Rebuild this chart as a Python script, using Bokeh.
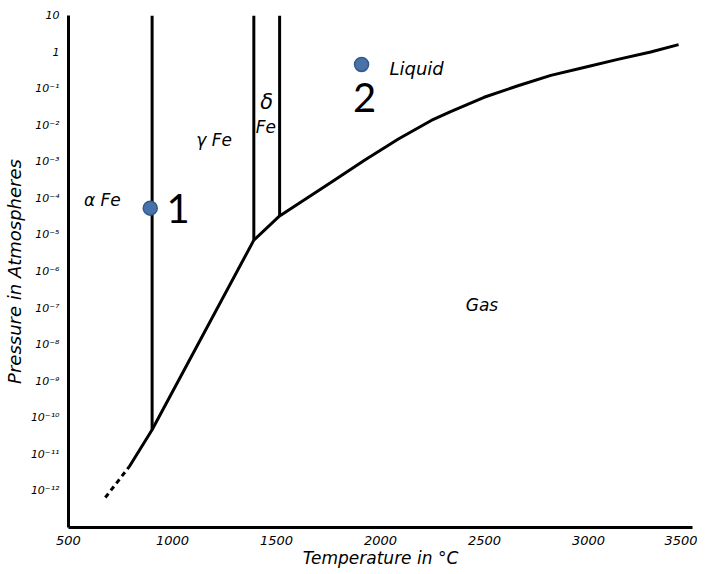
from bokeh.plotting import figure
from bokeh.models import Range1d, FixedTicker, CustomJSTickFormatter
from bokeh.core.properties import value
from bokeh.embed import file_html
from bokeh.resources import INLINE

# --- data (temperature in deg C, pressure in atm) ---
x_ticks = [500, 1000, 1500, 2000, 2500, 3000, 3500]
y_ticks = [1e-12, 1e-11, 1e-10, 1e-9, 1e-8, 1e-7, 1e-6, 1e-5, 1e-4, 1e-3, 1e-2, 1e-1, 1, 10]

alpha_gamma_T = [902, 902]
alpha_gamma_P = [10, 4.7e-11]

gamma_delta_T = [1391, 1391]
gamma_delta_P = [10, 7.2e-6]

delta_liquid_T = [1515, 1515]
delta_liquid_P = [10, 3.3e-5]

sub_dashed_T = [677, 792]
sub_dashed_P = [6.6e-13, 4.6e-12]

sub_gamma_T = [792, 902, 1391]
sub_gamma_P = [4.6e-12, 4.7e-11, 7.2e-6]

sub_delta_T = [1391, 1515]
sub_delta_P = [7.2e-6, 3.3e-5]

vap_T = [1515, 1765, 1923, 2086, 2244, 2340, 2498, 2661, 2819, 2978, 3141, 3299, 3433]
vap_P = [3.3e-5, 2.8e-4, 1.1e-3, 4.2e-3, 1.35e-2, 2.4e-2, 5.8e-2, 0.12, 0.23, 0.38, 0.63, 1.0, 1.6]

point_T = [893, 1909]
point_P = [5.4e-5, 0.46]
point_names = ["1", "2"]

FONT = value("DejaVu Sans")

p = figure(width=697, height=570, output_backend="svg", toolbar_location=None,
           y_axis_type="log", x_range=Range1d(500, 3500), y_range=Range1d(1e-13, 10),
           min_border_left=66, min_border_right=5, min_border_top=15, min_border_bottom=42)
p.outline_line_color = None
p.grid.visible = False
p.background_fill_color = "white"
p.border_fill_color = "white"

# axes
for ax in (p.xaxis[0], p.yaxis[0]):
    ax.axis_line_width = 3
    ax.axis_line_color = "black"
    ax.major_tick_line_color = None
    ax.minor_tick_line_color = None
    ax.major_label_text_font = "DejaVu Sans"
    ax.major_label_text_font_style = "italic"
    ax.major_label_text_color = "black"
    ax.axis_label_text_font = "DejaVu Sans"
    ax.axis_label_text_font_style = "italic"
    ax.axis_label_text_color = "black"

p.xaxis.ticker = FixedTicker(ticks=x_ticks)
p.xaxis.major_label_text_font_size = "13px"
p.xaxis.major_label_text_align = "right"
p.xaxis.major_label_standoff = 2
p.xaxis.axis_label = "Temperature in °C"
p.xaxis.axis_label_text_font_size = "17px"
p.xaxis.axis_label_standoff = 0

p.yaxis.ticker = FixedTicker(ticks=y_ticks)
p.yaxis.major_label_text_font_size = "11px"
p.yaxis.major_label_standoff = 3
p.yaxis.axis_label = "Pressure in Atmospheres"
p.yaxis.axis_label_text_font_size = "18px"
p.yaxis.axis_label_standoff = 3
p.yaxis.formatter = CustomJSTickFormatter(code="""
const e = Math.round(Math.log10(tick));
if (e === 1) return "10";
if (e === 0) return "1";
const sup = {"0":"\u2070","1":"\u00b9","2":"\u00b2","3":"\u00b3","4":"\u2074","5":"\u2075","6":"\u2076","7":"\u2077","8":"\u2078","9":"\u2079","-":"\u207b"};
return "10" + String(e).split("").map(c => sup[c]).join("");
""")

# phase boundaries
lw = 3
for T, P in [(alpha_gamma_T, alpha_gamma_P), (gamma_delta_T, gamma_delta_P),
             (delta_liquid_T, delta_liquid_P), (sub_gamma_T, sub_gamma_P),
             (sub_delta_T, sub_delta_P), (vap_T, vap_P)]:
    p.line(T, P, line_color="black", line_width=lw, line_join="round")
p.line(sub_dashed_T, sub_dashed_P, line_color="black", line_width=lw, line_dash="5 4")

# region labels
def lab(x, y, t, size="17px", align="center", font=FONT, style="italic"):
    p.text(x=[x], y=[y], text=[t], text_font=font, text_font_style=style,
           text_font_size=size, text_align=align, text_baseline="middle", text_color="black")

lab(663, 8.9e-5, "α Fe")
lab(1200, 3.9e-3, "γ Fe")
lab(1453, 4.3e-2, "δ", size="21px")
lab(1449, 8.7e-3, "Fe")
lab(2043, 0.36, "Liquid", align="left", size="18px")
lab(2488, 1.2e-7, "Gas")

# highlighted points
p.scatter(point_T, point_P, size=14, fill_color="#4a72a8", line_color="#2f5a8f", line_width=1.5)
lab(1027, 5.4e-5, point_names[0], size="40px", font=value("Lato"), style="normal")
lab(1923, 5.8e-2, point_names[1], size="40px", font=value("Lato"), style="normal")

open("out.html", "w").write(file_html(p, INLINE))
